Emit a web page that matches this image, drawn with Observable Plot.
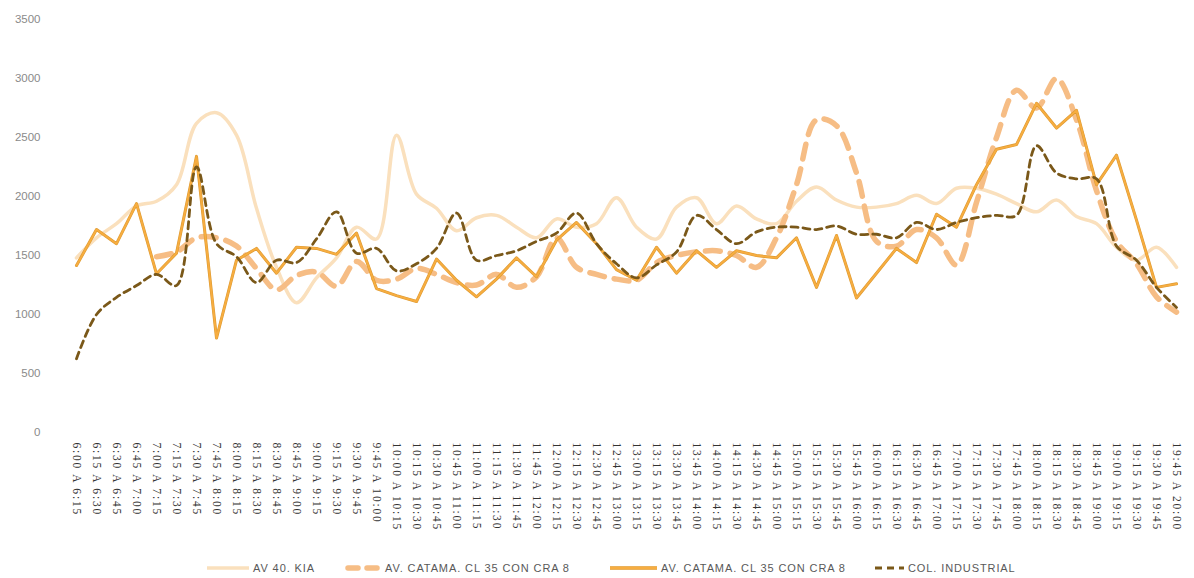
<!DOCTYPE html>
<html><head><meta charset="utf-8">
<script src="https://cdn.jsdelivr.net/npm/d3@7"></script>
<script src="https://cdn.jsdelivr.net/npm/@observablehq/plot@0.6"></script>
<style>
body{margin:0;background:#fff;width:1194px;height:578px;overflow:hidden;position:relative;font-family:"Liberation Sans",sans-serif}
#legend{position:absolute;left:0;top:558px;width:1194px;height:20px}
.item{position:absolute;top:0;height:20px;display:flex;align-items:center;font-size:11px;color:#595959;letter-spacing:0.9px;white-space:nowrap}
.item svg{margin-right:4px}
g[aria-label="y-axis tick label"] text{font-family:"Liberation Sans",sans-serif;font-size:11.5px;fill:#8a8a8a}
g[aria-label="x-axis tick label"] text{font-family:"Liberation Serif",serif;font-size:11.5px;letter-spacing:1.8px;fill:#333}
</style></head><body>
<div id="chart"></div>
<div id="legend"></div>
<script>
const periods = ["6:00 A 6:15","6:15 A 6:30","6:30 A 6:45","6:45 A 7:00","7:00 A 7:15","7:15 A 7:30","7:30 A 7:45","7:45 A 8:00","8:00 A 8:15","8:15 A 8:30","8:30 A 8:45","8:45 A 9:00","9:00 A 9:15","9:15 A 9:30","9:30 A 9:45","9:45 A 10:00","10:00 A 10:15","10:15 A 10:30","10:30 A 10:45","10:45 A 11:00","11:00 A 11:15","11:15 A 11:30","11:30 A 11:45","11:45 A 12:00","12:00 A 12:15","12:15 A 12:30","12:30 A 12:45","12:45 A 13:00","13:00 A 13:15","13:15 A 13:30","13:30 A 13:45","13:45 A 14:00","14:00 A 14:15","14:15 A 14:30","14:30 A 14:45","14:45 A 15:00","15:00 A 15:15","15:15 A 15:30","15:30 A 15:45","15:45 A 16:00","16:00 A 16:15","16:15 A 16:30","16:30 A 16:45","16:45 A 17:00","17:00 A 17:15","17:15 A 17:30","17:30 A 17:45","17:45 A 18:00","18:00 A 18:15","18:15 A 18:30","18:30 A 18:45","18:45 A 19:00","19:00 A 19:15","19:15 A 19:30","19:30 A 19:45","19:45 A 20:00"];

const seriesNames = ["AV 40. KIA","AV. CATAMA. CL 35 CON CRA 8","AV. CATAMA. CL 35 CON CRA 8","COL. INDUSTRIAL"];

const kia = [1480,1650,1770,1920,1960,2100,2620,2710,2520,1900,1400,1100,1310,1480,1740,1640,2520,2020,1900,1710,1820,1840,1740,1650,1810,1740,1770,1990,1740,1640,1910,1990,1770,1920,1810,1770,1960,2080,1970,1910,1910,1940,2010,1940,2070,2070,2020,1940,1870,1970,1830,1770,1570,1460,1570,1400];

const catamaDashed = [null,null,null,null,1490,1530,1650,1650,1580,1390,1210,1330,1360,1240,1450,1290,1300,1390,1340,1270,1250,1340,1230,1320,1650,1400,1340,1300,1290,1440,1500,1530,1540,1500,1400,1650,2100,2650,2600,2200,1620,1580,1720,1650,1420,1950,2500,2900,2750,3000,2650,2050,1620,1430,1150,1020];

const catamaSolid = [1415,1720,1600,1940,1345,1520,2340,800,1460,1560,1350,1570,1560,1510,1690,1220,1160,1110,1470,1290,1150,1300,1480,1320,1630,1780,1600,1380,1290,1570,1350,1540,1400,1540,1500,1480,1650,1230,1670,1140,1350,1560,1440,1850,1740,2100,2400,2440,2790,2580,2730,2100,2350,1800,1230,1260];

const colIndustrial = [625,1000,1145,1245,1340,1245,2250,1600,1490,1270,1460,1440,1640,1870,1520,1560,1370,1430,1560,1860,1460,1500,1540,1620,1690,1860,1600,1430,1310,1420,1530,1840,1720,1600,1700,1740,1740,1720,1750,1680,1680,1650,1780,1720,1780,1820,1840,1840,2430,2200,2150,2150,1580,1460,1230,1060];

const yTicks = [0,500,1000,1500,2000,2500,3000,3500];

const toRows = (vals) => periods.map((p, i) => ({period: p, value: vals[i]}));

const chart = Plot.plot({
  width: 1194,
  height: 545,
  marginLeft: 48,
  marginRight: 0,
  marginTop: 19,
  marginBottom: 113,
  style: {background: "#fff", overflow: "visible"},
  x: {type: "point", domain: periods, range: [63, 1188], label: null},
  y: {domain: [0, 3500], range: [432, 19], label: null},
  marks: [
    Plot.axisY({ticks: yTicks, tickFormat: d => String(d), tickSize: 0, tickPadding: 8, label: null}),
    Plot.axisX({tickRotate: 90, tickSize: 0, tickPadding: 10, label: null}),
    Plot.line(toRows(kia), {x: "period", y: "value", stroke: "#fae0bd", strokeWidth: 3.5, curve: "catmull-rom"}),
    Plot.line(toRows(catamaDashed), {x: "period", y: "value", stroke: "#f6bd85", strokeWidth: 5.5, strokeDasharray: "15,10", strokeLinecap: "round", curve: "catmull-rom"}),
    Plot.line(toRows(catamaSolid), {x: "period", y: "value", stroke: "#dc9a33", strokeWidth: 3}),
    Plot.line(toRows(catamaSolid), {x: "period", y: "value", stroke: "#f7ad40", strokeWidth: 1.9}),
    Plot.line(toRows(colIndustrial), {x: "period", y: "value", stroke: "#7a5819", strokeWidth: 2.8, strokeDasharray: "7,5", curve: "catmull-rom"})
  ]
});
document.getElementById("chart").appendChild(chart);

// legend
const legendItems = [
  {name: seriesNames[0], left: 207, sw: 42, stroke: "#fae0bd", width: 3.5, dash: null},
  {name: seriesNames[1], left: 345, sw: 36, stroke: "#f6bd85", width: 5.5, dash: "10,9"},
  {name: seriesNames[2], left: 610, sw: 47, stroke: "#f7ad40", width: 2.4, dash: null, edge: "#dc9a33"},
  {name: seriesNames[3], left: 872, sw: 32, stroke: "#7a5819", width: 2.8, dash: "7,5"}
];
const legend = d3.select("#legend");
for (const it of legendItems) {
  const div = legend.append("div").attr("class", "item").style("left", it.left + "px");
  const s = div.append("svg").attr("width", it.sw).attr("height", 10);
  if (it.edge) s.append("line").attr("x1", 0).attr("x2", it.sw).attr("y1", 5).attr("y2", 5).attr("stroke", it.edge).attr("stroke-width", it.width + 1.2);
  s.append("line").attr("x1", it.dash ? 3 : 0).attr("x2", it.sw).attr("y1", 5).attr("y2", 5)
    .attr("stroke", it.stroke).attr("stroke-width", it.width)
    .attr("stroke-dasharray", it.dash).attr("stroke-linecap", it.dash && it.width > 4 ? "round" : "butt");
  div.append("span").text(it.name);
}
</script>
</body></html>
